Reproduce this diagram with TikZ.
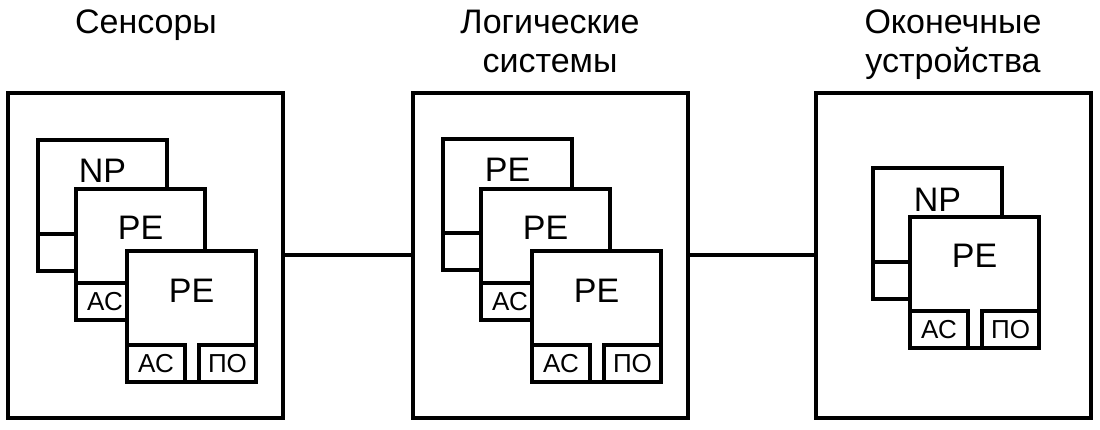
\documentclass[tikz,border=0pt]{standalone}
\usepackage{fontspec}
\setmainfont{Liberation Sans}
\begin{document}
\begin{tikzpicture}[x=1pt,y=-1pt,
  panel/.style={draw, line width=4pt, minimum width=275pt, minimum height=325pt, inner sep=0pt},
  modbox/.style={draw, fill=white, line width=4pt, minimum width=129pt, minimum height=131pt, inner sep=0pt, anchor=north west},
  subbox/.style={draw, fill=white, line width=4pt, minimum height=37pt, inner sep=0pt, font=\fontsize{26}{30}\selectfont},
  title/.style={font=\fontsize{34}{39}\selectfont, align=center, anchor=north, inner sep=0pt},
  big/.style={font=\fontsize{34}{39}\selectfont, inner sep=0pt, anchor=base},
  link/.style={line width=4pt}]
\useasboundingbox (0,0) rectangle (1100,430);

% titles
\node[title] (t1) at (146,10) {Сенсоры};
\node[title] (t2) at (550,10) {Логические\\системы};
\node[title] (t3) at (953,10) {Оконечные\\устройства};

% panels
\node[panel] (p1) at (145.5,255.5) {};
\node[panel] (p2) at (550,255.5) {};
\node[panel] (p3) at (953.5,255.5) {};

\draw[link] (p1.east) -- (p2.west);
\draw[link] (p2.east) -- (p3.west);

% panel 1
\node[modbox] (a1) at (36,138) {};
\node[subbox, minimum width=58pt, anchor=south west] (a1s) at (a1.south west) {};
\node[big] (a1t) at ([yshift=-45pt]a1.north) {NP};

\node[modbox] (a2) at (74,187) {};
\node[subbox, minimum width=58pt, anchor=south west] (a2ac) at (a2.south west) {АС};
\node[big] (a2t) at ([yshift=-53pt]a2.north) {PE};

\node[modbox] (a3) at (125,249) {};
\node[subbox, minimum width=58pt, anchor=south west] (a3ac) at (a3.south west) {АС};
\node[subbox, minimum width=57pt, anchor=south east] (a3po) at (a3.south east) {ПО};
\node[big] (a3t) at ([yshift=-53pt]a3.north) {PE};

% panel 2
\node[modbox] (b1) at (441,137) {};
\node[subbox, minimum width=58pt, anchor=south west] (b1s) at (b1.south west) {};
\node[big] (b1t) at ([yshift=-45pt]b1.north) {PE};

\node[modbox] (b2) at (479,187) {};
\node[subbox, minimum width=58pt, anchor=south west] (b2ac) at (b2.south west) {АС};
\node[big] (b2t) at ([yshift=-53pt]b2.north) {PE};

\node[modbox] (b3) at (530,249) {};
\node[subbox, minimum width=58pt, anchor=south west] (b3ac) at (b3.south west) {АС};
\node[subbox, minimum width=57pt, anchor=south east] (b3po) at (b3.south east) {ПО};
\node[big] (b3t) at ([yshift=-53pt]b3.north) {PE};

% panel 3
\node[modbox] (c1) at (871,166) {};
\node[subbox, minimum width=58pt, anchor=south west] (c1s) at (c1.south west) {};
\node[big] (c1t) at ([yshift=-46pt]c1.north) {NP};

\node[modbox] (c2) at (908,215) {};
\node[subbox, minimum width=58pt, anchor=south west] (c2ac) at (c2.south west) {АС};
\node[subbox, minimum width=57pt, anchor=south east] (c2po) at (c2.south east) {ПО};
\node[big] (c2t) at ([yshift=-53pt]c2.north) {PE};
\end{tikzpicture}
\end{document}
